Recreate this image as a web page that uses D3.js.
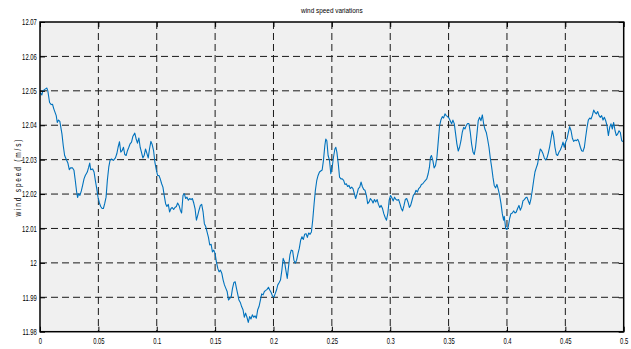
<!DOCTYPE html>
<html>
<head>
<meta charset="utf-8">
<script src="https://cdn.jsdelivr.net/npm/d3@7"></script>
<style>
  html, body { margin: 0; padding: 0; background: #ffffff; }
  svg { display: block; }
  text { font-family: "Liberation Sans", Arial, sans-serif; fill: #000; }
</style>
</head>
<body>
<svg id="chart" width="631" height="349"></svg>
<script>
// Sample times (ms) and measured wind speed (m/s)
const timeMs = [
  0, 1.6, 2.4, 4.4, 5.9, 6.7, 8.2, 9.6, 10.7, 11.9, 13.9, 14.8, 15.9, 17.0, 17.6, 18.8, 19.9, 21.1, 22.8, 23.9,
  25.1, 26.2, 27.9, 29.1, 30.2, 31.4, 32.2, 33.1, 34.2, 35.4, 36.5, 37.7, 38.8, 40.5, 41.7, 42.6, 43.4, 45.1, 46.3, 47.4,
  48.6, 49.7, 50.9, 52.0, 53.2, 54.3, 55.4, 56.6, 57.7, 58.9, 60.0, 61.2, 62.9, 64.6, 65.8, 66.9, 68.1, 69.2, 70.3, 71.5,
  72.6, 73.8, 74.9, 76.1, 77.2, 78.4, 79.5, 81.2, 82.4, 83.5, 84.7, 85.8, 86.9, 88.1, 89.2, 90.4, 91.5, 92.7, 93.8, 95.0,
  96.1, 97.3, 98.4, 99.6, 100.7, 101.9, 103.0, 104.2, 105.3, 106.4, 107.6, 108.7, 109.9, 111.0, 112.2, 113.3, 114.5, 115.6, 116.8, 117.9,
  119.1, 120.2, 121.3, 122.5, 123.6, 124.8, 125.9, 127.1, 128.2, 129.4, 130.5, 131.7, 132.8, 134.0, 135.1, 136.2, 137.4, 138.5, 139.7, 140.8,
  142.0, 143.1, 144.3, 145.4, 146.6, 147.7, 148.9, 150.0, 151.1, 152.3, 153.4, 154.6, 155.7, 156.9, 158.0, 159.2, 160.3, 161.5, 162.6, 163.8,
  164.9, 166.1, 167.2, 168.3, 169.5,
  170.4, 171.6, 172.7, 173.9, 175.0, 176.1, 177.3, 178.4, 179.6, 180.7, 181.9, 183.0, 184.2, 185.3, 186.5, 187.6, 188.8, 189.9, 191.1, 192.2,
  193.4, 194.5, 195.7, 196.8, 198.0, 199.1, 200.3, 201.4, 202.6, 203.7, 204.9, 206.0, 207.2, 208.3, 209.5, 210.6, 211.8, 212.9, 214.1, 215.2,
  216.4, 217.5, 218.7, 219.8, 221.0, 222.1, 223.3, 224.4, 225.6, 226.7, 227.9, 229.0, 230.2, 231.3, 232.5, 233.6, 234.8, 235.9, 237.1, 238.2,
  239.4, 240.5, 241.7, 242.8, 244.0, 244.8, 245.7, 246.8, 248.0, 249.1, 250.3, 251.4, 252.6, 253.4, 254.3, 255.5, 256.6, 257.8, 258.9, 260.1,
  261.2, 262.4, 263.5, 264.7, 265.8, 267.0, 268.1, 269.3, 270.4, 271.6, 272.7, 273.9, 275.0, 276.1, 277.3, 278.4, 279.6, 280.7, 281.9, 283.0,
  284.2, 285.3, 286.5, 287.6, 288.8, 289.9, 291.1, 292.2, 293.4, 294.5, 295.7, 296.8, 298.0, 299.1, 300.3, 301.4, 302.6, 303.7, 304.9, 306.0,
  307.2, 308.3, 309.5, 310.6, 311.8, 312.9, 314.1, 315.2, 316.4, 317.5, 318.7, 319.8, 321.0, 322.1, 323.3, 324.4, 325.6, 326.7, 327.9, 329.0,
  330.2, 331.3, 332.5, 333.6, 334.5, 335.3, 336.5, 337.6, 338.8,
  340.0, 341.1, 342.3, 343.4, 344.6, 345.7, 346.9, 348.0, 349.1, 350.3, 351.4, 352.6, 353.7, 354.9, 356.0, 357.1, 358.3, 359.4, 360.6, 361.7,
  362.9, 364.0, 365.1, 366.3, 367.4, 368.6, 369.7, 370.9, 372.0, 373.1, 374.3, 375.4, 376.6, 377.7, 378.9, 380.0, 381.1, 382.3, 383.4, 384.6,
  385.7, 386.9, 388.0, 389.1, 390.3, 391.4, 392.6, 393.7, 394.9, 396.0, 397.1, 397.7, 398.9, 400.0, 401.1, 402.3, 403.4, 404.6, 405.7, 406.9,
  408.0, 409.1, 410.3, 411.4, 412.6, 413.7, 414.9, 416.0, 417.1, 418.3, 419.4, 420.6, 421.7, 422.9, 424.0, 425.1, 426.3, 427.4, 428.6, 429.7,
  430.9, 432.0, 433.1, 434.3, 435.4, 436.6, 437.7, 438.9, 440.0, 441.1, 442.3, 443.4, 444.6, 445.7, 446.9, 448.0, 449.1, 450.3, 451.4, 452.6,
  453.7, 454.9, 456.0, 457.1, 458.3, 459.4, 460.6, 461.7, 462.9, 464.0, 465.1, 466.3, 467.4, 468.6, 469.7, 470.9, 472.0, 473.1, 474.3, 475.4,
  476.6, 477.7, 478.9, 480.0, 481.1, 482.3, 483.4, 484.6, 485.7, 486.9, 488.0, 489.1, 490.3, 491.4, 492.6, 493.7, 494.9, 496.0, 497.1, 498.3,
  499.4, 500.0
];

const windSpeed = [
  12.0495, 12.0488, 12.0500, 12.0505, 12.0508, 12.0500, 12.0466, 12.0460, 12.0461, 12.0447, 12.0428, 12.0408, 12.0415, 12.0411, 12.0399, 12.0375, 12.0341, 12.0312, 12.0298, 12.0290,
  12.0271, 12.0276, 12.0276, 12.0269, 12.0240, 12.0206, 12.0190, 12.0201, 12.0196, 12.0209, 12.0225, 12.0244, 12.0254, 12.0264, 12.0278, 12.0290, 12.0271, 12.0273, 12.0264, 12.0240,
  12.0216, 12.0191, 12.0174, 12.0164, 12.0158, 12.0158, 12.0172, 12.0191, 12.0240, 12.0278, 12.0298, 12.0302, 12.0298, 12.0305, 12.0317, 12.0336, 12.0352, 12.0322, 12.0326, 12.0336,
  12.0315, 12.0312, 12.0326, 12.0336, 12.0346, 12.0351, 12.0367, 12.0377, 12.0360, 12.0348, 12.0363, 12.0336, 12.0322, 12.0305, 12.0312, 12.0331, 12.0319, 12.0305, 12.0331, 12.0353,
  12.0344, 12.0326, 12.0293, 12.0271, 12.0254, 12.0254, 12.0244, 12.0230, 12.0220, 12.0196, 12.0172, 12.0164, 12.0170, 12.0148, 12.0158, 12.0161, 12.0155, 12.0161, 12.0164, 12.0174,
  12.0167, 12.0153, 12.0145, 12.0196, 12.0201, 12.0187, 12.0191, 12.0182, 12.0187, 12.0184, 12.0187, 12.0174, 12.0158, 12.0124, 12.0138, 12.0153, 12.0167, 12.0170, 12.0148, 12.0114,
  12.0105, 12.0090, 12.0074, 12.0052, 12.0054, 12.0032, 12.0037, 12.0027, 12.0003, 11.9984, 11.9974, 11.9979, 11.9970, 11.9950, 11.9936, 11.9926, 11.9917, 11.9892, 11.9897, 11.9902,
  11.9926, 11.9943, 11.9945, 11.9926, 11.9907,
  11.9892, 11.9885, 11.9873, 11.9864, 11.9842, 11.9854, 11.9842, 11.9827, 11.9844, 11.9837, 11.9849, 11.9842, 11.9846, 11.9839, 11.9864, 11.9873, 11.9892, 11.9910, 11.9907, 11.9917,
  11.9920, 11.9923, 11.9929, 11.9921, 11.9914, 11.9904, 11.9900, 11.9910, 11.9921, 11.9936, 11.9943, 11.9950, 11.9979, 12.0013, 12.0003, 11.9979, 11.9955, 11.9989, 12.0023, 12.0037,
  12.0035, 12.0008, 11.9999, 12.0008, 12.0027, 12.0042, 12.0066, 12.0076, 12.0068, 12.0083, 12.0085, 12.0074, 12.0087, 12.0083, 12.0090, 12.0124, 12.0172, 12.0211, 12.0240, 12.0254,
  12.0264, 12.0267, 12.0270, 12.0298, 12.0341, 12.0360, 12.0355, 12.0312, 12.0298, 12.0259, 12.0278, 12.0307, 12.0331, 12.0336, 12.0322, 12.0288, 12.0249, 12.0244, 12.0244, 12.0240,
  12.0228, 12.0230, 12.0222, 12.0225, 12.0216, 12.0220, 12.0216, 12.0201, 12.0187, 12.0201, 12.0216, 12.0220, 12.0235, 12.0222, 12.0213, 12.0211, 12.0196, 12.0172, 12.0177, 12.0187,
  12.0182, 12.0174, 12.0184, 12.0177, 12.0184, 12.0170, 12.0161, 12.0167, 12.0158, 12.0143, 12.0132, 12.0124, 12.0145, 12.0182, 12.0196, 12.0189, 12.0180, 12.0191, 12.0184, 12.0182,
  12.0184, 12.0172, 12.0158, 12.0151, 12.0167, 12.0184, 12.0187, 12.0177, 12.0161, 12.0167, 12.0182, 12.0196, 12.0201, 12.0211, 12.0206, 12.0216, 12.0220, 12.0228, 12.0230, 12.0235,
  12.0240, 12.0244, 12.0259, 12.0278, 12.0307, 12.0312, 12.0298, 12.0276, 12.0283,
  12.0307, 12.0351, 12.0399, 12.0415, 12.0425, 12.0421, 12.0433, 12.0428, 12.0425, 12.0421, 12.0413, 12.0404, 12.0415, 12.0404, 12.0375, 12.0346, 12.0325, 12.0336, 12.0355, 12.0379,
  12.0394, 12.0389, 12.0399, 12.0405, 12.0405, 12.0379, 12.0346, 12.0322, 12.0315, 12.0336, 12.0375, 12.0413, 12.0423, 12.0413, 12.0430, 12.0405, 12.0389, 12.0379, 12.0360, 12.0336,
  12.0305, 12.0278, 12.0249, 12.0225, 12.0218, 12.0228, 12.0213, 12.0196, 12.0172, 12.0143, 12.0124, 12.0135, 12.0100, 12.0097, 12.0105, 12.0129, 12.0143, 12.0145, 12.0151, 12.0145,
  12.0148, 12.0158, 12.0167, 12.0153, 12.0162, 12.0180, 12.0184, 12.0189, 12.0191, 12.0180, 12.0170, 12.0187, 12.0211, 12.0240, 12.0264, 12.0276, 12.0288, 12.0312, 12.0331, 12.0326,
  12.0317, 12.0305, 12.0299, 12.0305, 12.0319, 12.0338, 12.0360, 12.0384, 12.0367, 12.0336, 12.0315, 12.0312, 12.0322, 12.0328, 12.0338, 12.0351, 12.0336, 12.0351, 12.0360, 12.0379,
  12.0396, 12.0384, 12.0363, 12.0353, 12.0357, 12.0355, 12.0359, 12.0351, 12.0336, 12.0326, 12.0324, 12.0336, 12.0365, 12.0394, 12.0415, 12.0421, 12.0418, 12.0428, 12.0444, 12.0437,
  12.0433, 12.0440, 12.0428, 12.0423, 12.0428, 12.0415, 12.0423, 12.0413, 12.0399, 12.0370, 12.0394, 12.0404, 12.0389, 12.0408, 12.0384, 12.0370, 12.0375, 12.0384, 12.0379, 12.0355,
  12.0353, 12.0352
];

const xTicks = [0, 0.05, 0.1, 0.15, 0.2, 0.25, 0.3, 0.35, 0.4, 0.45, 0.5];
const xTickLabels = ["0", "0.05", "0.1", "0.15", "0.2", "0.25", "0.3", "0.35", "0.4", "0.45", "0.5"];
const yTicks = [11.98, 11.99, 12, 12.01, 12.02, 12.03, 12.04, 12.05, 12.06, 12.07];
const yTickLabels = ["11.98", "11.99", "12", "12.01", "12.02", "12.03", "12.04", "12.05", "12.06", "12.07"];
const titleText = "wind speed variations";
const yAxisTitle = "wind speed (m/s)";

// Layout
const width = 631, height = 349;
const margin = { top: 22, right: 7.3, bottom: 17.3, left: 40 };
const plotW = width - margin.left - margin.right;
const plotH = height - margin.top - margin.bottom;
const tickFont = 8.5;
const narrow = 0.69; // horizontal squeeze for the condensed label face

const svg = d3.select("#chart");

const x = d3.scaleLinear().domain([0, 0.5]).range([0, plotW]);
const y = d3.scaleLinear().domain([11.98, 12.07]).range([plotH, 0]);

// Compress text horizontally while keeping its anchor
function condense(sel, factor) {
  sel.each(function () {
    const len = this.getComputedTextLength();
    this.setAttribute("textLength", (len * factor).toFixed(2));
    this.setAttribute("lengthAdjust", "spacingAndGlyphs");
  });
}

const g = svg.append("g").attr("transform", `translate(${margin.left},${margin.top})`);

// Plot background
g.append("rect")
  .attr("width", plotW).attr("height", plotH)
  .attr("fill", "#f0f0f0");

// Dashed grid
const gridStyle = sel => sel.attr("stroke", "#1a1a1a").attr("stroke-width", 1)
  .attr("stroke-dasharray", "7,4").attr("fill", "none");

g.append("g").selectAll("line")
  .data(xTicks.slice(1, -1))
  .join("line")
  .attr("x1", d => x(d)).attr("x2", d => x(d))
  .attr("y1", 0).attr("y2", plotH)
  .call(gridStyle);

g.append("g").selectAll("line")
  .data(yTicks.slice(1, -1))
  .join("line")
  .attr("x1", 0).attr("x2", plotW)
  .attr("y1", d => y(d)).attr("y2", d => y(d))
  .call(gridStyle);

// Clip for the trace
g.append("clipPath").attr("id", "plot-clip")
  .append("rect").attr("width", plotW).attr("height", plotH);

const series = timeMs.map((t, i) => ({ t: t / 1000, v: windSpeed[i] }));

g.append("path")
  .datum(series)
  .attr("clip-path", "url(#plot-clip)")
  .attr("fill", "none")
  .attr("stroke", "#0072bd")
  .attr("stroke-width", 1.1)
  .attr("stroke-linejoin", "round")
  .attr("d", d3.line().x(d => x(d.t)).y(d => y(d.v)));

// Axes with inward ticks
const fmtX = d => xTickLabels[xTicks.indexOf(d)];
const fmtY = d => yTickLabels[yTicks.indexOf(d)];

const styleAxis = sel => {
  sel.select(".domain").remove();
  sel.selectAll(".tick line").attr("stroke", "#000").attr("stroke-width", 1);
  sel.selectAll("text").attr("font-size", tickFont).attr("fill", "#000")
    .style("font-family", '"Liberation Sans", Arial, sans-serif')
    .call(condense, narrow);
};

g.append("g").attr("transform", `translate(0,${plotH})`)
  .call(d3.axisBottom(x).tickValues(xTicks).tickFormat(fmtX).tickSizeInner(-5).tickSizeOuter(0).tickPadding(6.3))
  .call(styleAxis);

g.append("g")
  .call(d3.axisTop(x).tickValues(xTicks).tickFormat("").tickSizeInner(-5).tickSizeOuter(0))
  .call(styleAxis);

g.append("g")
  .call(d3.axisLeft(y).tickValues(yTicks).tickFormat(fmtY).tickSizeInner(-5).tickSizeOuter(0).tickPadding(3.2))
  .call(styleAxis);

g.append("g").attr("transform", `translate(${plotW},0)`)
  .call(d3.axisRight(y).tickValues(yTicks).tickFormat("").tickSizeInner(-5).tickSizeOuter(0))
  .call(styleAxis);

// Axes box
g.append("rect")
  .attr("width", plotW).attr("height", plotH)
  .attr("fill", "none").attr("stroke", "#000").attr("stroke-width", 1.5);

// Title
svg.append("text")
  .attr("x", margin.left + plotW / 2).attr("y", 13)
  .attr("text-anchor", "middle")
  .attr("font-size", 8)
  .text(titleText)
  .call(condense, 0.8);

// Y axis title: condensed glyphs, widely spaced letters
svg.append("g")
  .attr("transform", `translate(21,178) rotate(-90) scale(${narrow},1)`)
  .append("text")
  .attr("text-anchor", "middle")
  .attr("font-size", 9.5)
  .attr("textLength", (77 / narrow).toFixed(1))
  .attr("lengthAdjust", "spacing")
  .text(yAxisTitle);
</script>
</body>
</html>
